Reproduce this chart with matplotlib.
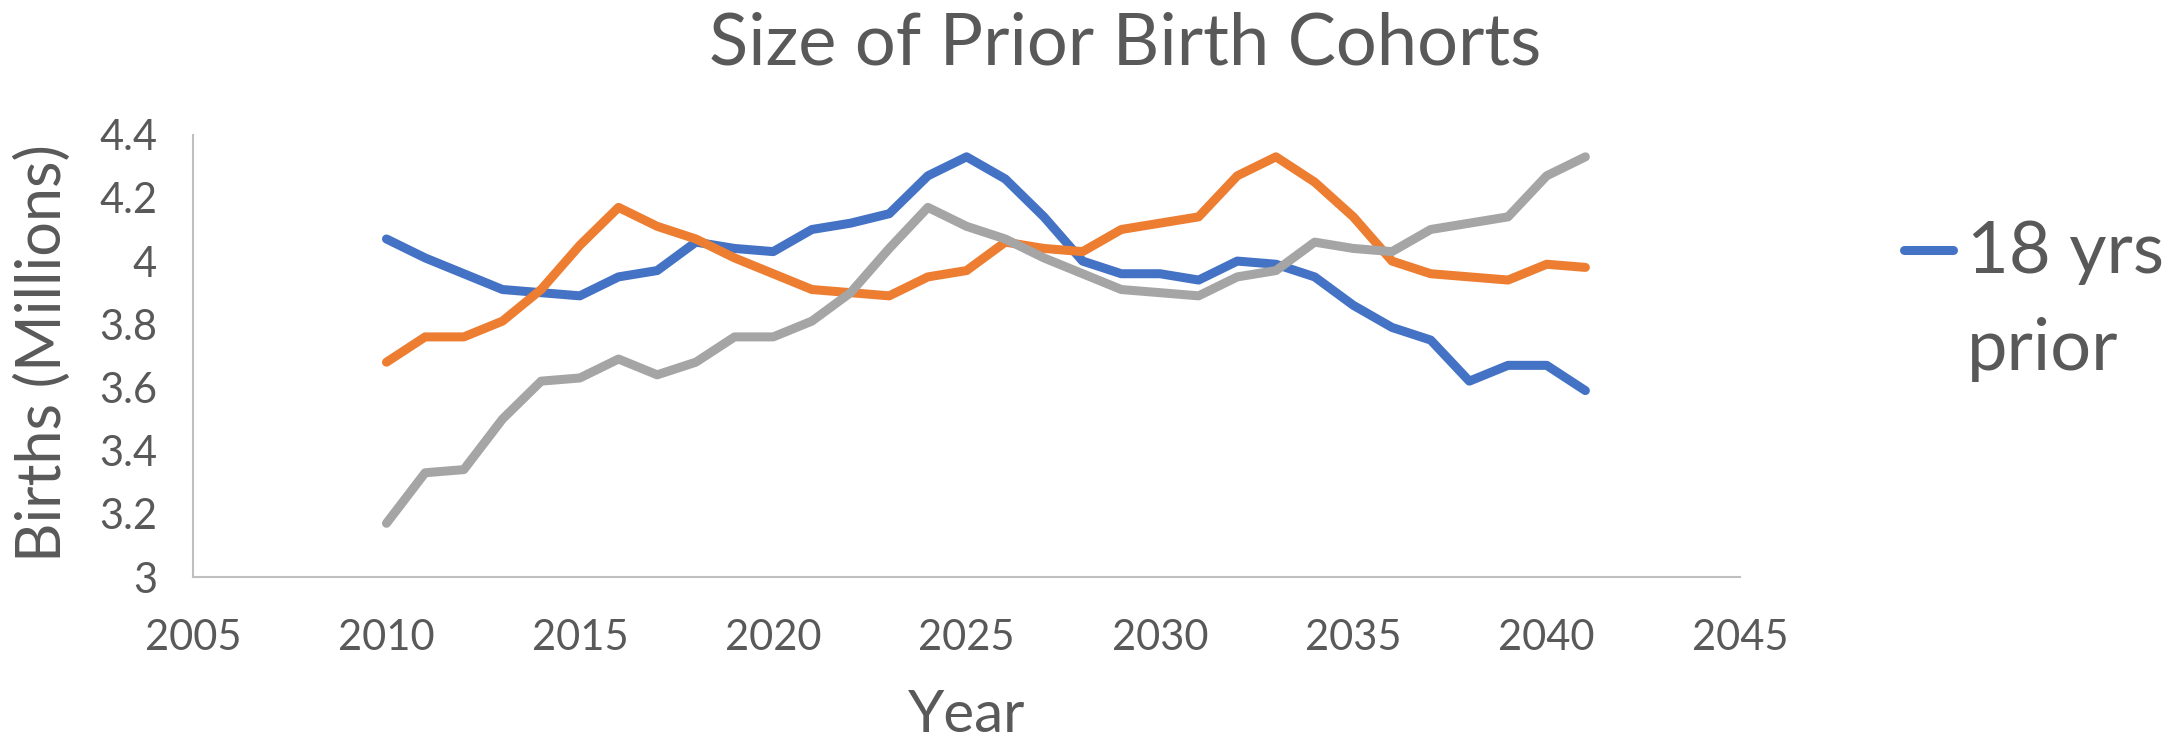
import matplotlib.pyplot as plt
from matplotlib.lines import Line2D

plt.rcParams["font.family"] = ["Lato", "DejaVu Sans"]

years = list(range(2010, 2042))
yrs18 = [4.07, 4.01, 3.96, 3.91, 3.90, 3.89, 3.95, 3.97, 4.06, 4.04, 4.03, 4.10,
         4.12, 4.15, 4.27, 4.33, 4.26, 4.14, 4.00, 3.96, 3.96, 3.94, 4.00, 3.99,
         3.95, 3.86, 3.79, 3.75, 3.62, 3.67, 3.67, 3.59]
yrs10 = [3.68, 3.76, 3.76, 3.81, 3.91, 4.05, 4.17, 4.11, 4.07, 4.01, 3.96, 3.91,
         3.90, 3.89, 3.95, 3.97, 4.06, 4.04, 4.03, 4.10, 4.12, 4.14, 4.27, 4.33,
         4.25, 4.14, 4.00, 3.96, 3.95, 3.94, 3.99, 3.98]
yrs2 = [3.17, 3.33, 3.34, 3.50, 3.62, 3.63, 3.69, 3.64, 3.68, 3.76, 3.76, 3.81,
        3.90, 4.04, 4.17, 4.11, 4.07, 4.01, 3.96, 3.91, 3.90, 3.89, 3.95, 3.97,
        4.06, 4.04, 4.03, 4.10, 4.12, 4.14, 4.27, 4.33]

x_ticks = [2005, 2010, 2015, 2020, 2025, 2030, 2035, 2040, 2045]
y_ticks = [3, 3.2, 3.4, 3.6, 3.8, 4, 4.2, 4.4]
y_labels = ["3", "3.2", "3.4", "3.6", "3.8", "4", "4.2", "4.4"]

text_col = "#595959"
axis_col = "#BFBFBF"
lw = 6.5

fig = plt.figure(figsize=(21.77, 7.41), dpi=100)
ax = fig.add_axes([0.0887, 0.2213, 0.7106, 0.5969])

blue, = ax.plot(years, yrs18, color="#4472C4", lw=lw, solid_capstyle="round", solid_joinstyle="round")
ax.plot(years, yrs10, color="#ED7D31", lw=lw, solid_capstyle="round", solid_joinstyle="round")
ax.plot(years, yrs2, color="#A5A5A5", lw=lw, solid_capstyle="round", solid_joinstyle="round")

ax.set_xlim(2005, 2045)
ax.set_ylim(3, 4.4)
ax.set_xticks(x_ticks)
ax.set_yticks(y_ticks)
ax.set_yticklabels(y_labels)
ax.tick_params(axis="both", length=0, labelsize=30, colors=text_col)
ax.tick_params(axis="y", pad=26)
ax.tick_params(axis="x", pad=30)
for side in ["top", "right"]:
    ax.spines[side].set_visible(False)
for side in ["left", "bottom"]:
    ax.spines[side].set_color(axis_col)
    ax.spines[side].set_linewidth(1.5)

fig.text(0.517, 0.9123, "Size of Prior Birth Cohorts", ha="center", va="baseline",
         fontsize=52, color=text_col)
fig.text(0.444, 0.035, "Year", ha="center", va="center", fontsize=42, color=text_col)
fig.text(0.02, 0.523, "Births (Millions)", ha="center", va="center", rotation=90,
         fontsize=44, color=text_col)

# legend: only the first entry is visible in the original
fig.add_artist(Line2D([0.8748, 0.8969], [0.6626, 0.6626], transform=fig.transFigure,
                      color=blue.get_color(), lw=lw, solid_capstyle="round"))
fig.text(0.9035, 0.6316, "18 yrs", ha="left", va="baseline", fontsize=52, color=text_col)
fig.text(0.9035, 0.5007, "prior", ha="left", va="baseline", fontsize=52, color=text_col)

fig.savefig("out.png", dpi=100)
